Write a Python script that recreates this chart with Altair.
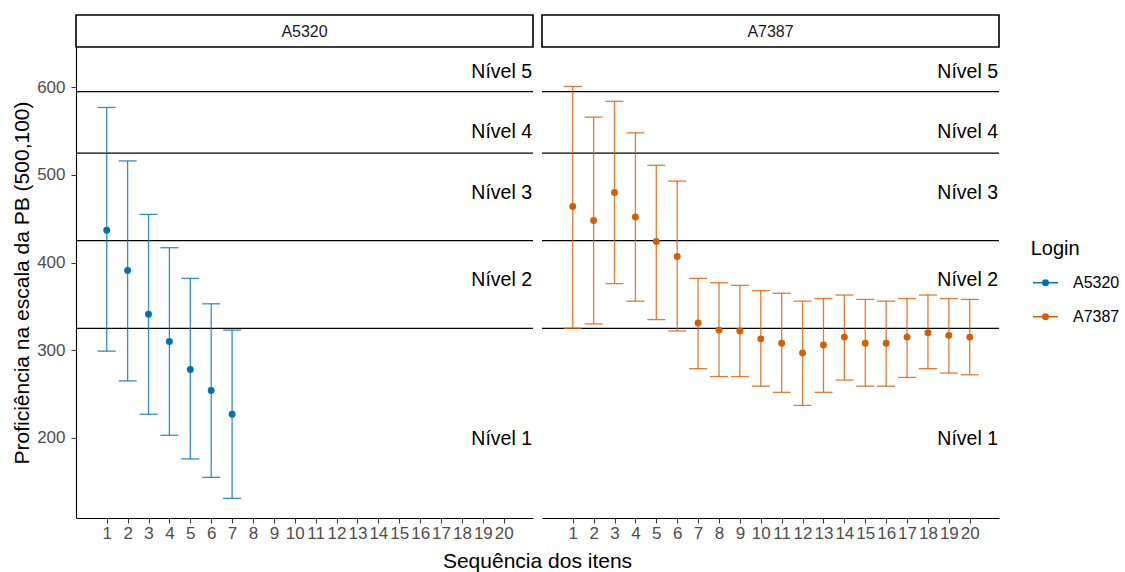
import altair as alt
import pandas as pd

# ---------------- data ----------------
items_a = [1, 2, 3, 4, 5, 6, 7]
mean_a = [437, 391, 341, 310, 278, 254, 227]
upper_a = [577, 516, 455, 417, 382, 353, 323]
lower_a = [299, 265, 227, 203, 176, 155, 131]

items_b = list(range(1, 21))
mean_b = [464, 448, 480, 452, 424, 407, 331, 323, 322, 313, 308, 297, 306, 315, 308, 308, 315, 320, 317, 315]
upper_b = [601, 566, 584, 548, 511, 493, 382, 377, 374, 368, 365, 356, 359, 363, 358, 356, 359, 363, 359, 358]
lower_b = [325, 330, 376, 356, 335, 322, 279, 270, 270, 259, 252, 237, 252, 266, 259, 259, 269, 279, 274, 272]

logins = ["A5320", "A7387"]
colors = ["#0072B2", "#D55E00"]

level_cuts = [325, 425, 525, 595]
level_names = ["Nível 1", "Nível 2", "Nível 3", "Nível 4", "Nível 5"]
level_label_pos = [199, 380, 479, 549, 618]

x_ticks = list(range(1, 21))
y_ticks = [200, 300, 400, 500, 600]

# ---------------- tables ----------------
df_a = pd.DataFrame({"item": items_a, "mean": mean_a, "lo": lower_a, "hi": upper_a, "Login": logins[0]})
df_b = pd.DataFrame({"item": items_b, "mean": mean_b, "lo": lower_b, "hi": upper_b, "Login": logins[1]})
df_cuts = pd.DataFrame({"y": level_cuts})
df_lab = pd.DataFrame({"y": level_label_pos, "label": level_names})
df_leg = pd.DataFrame({"Login": logins})

W = 457
H = 471
YDOM = [108.6, 646]
XDOM = [-0.47, 21.4]
FONT = "Liberation Sans"

color_scale = alt.Scale(domain=logins, range=colors)
yscale = alt.Scale(domain=YDOM, nice=False, zero=False)
xscale = alt.Scale(domain=XDOM, nice=False, zero=False)
xaxis = alt.Axis(values=x_ticks, title=None, labelOverlap=False, labelFlush=False, labelBound=False)
col = alt.Color("Login:N", scale=color_scale, legend=None)


def panel(df, name, left):
    if left:
        yaxis = alt.Axis(values=y_ticks, title="Proficiência na escala da PB (500,100)")
    else:
        yaxis = None

    def Y(f):
        return alt.Y(f, scale=yscale, axis=yaxis)

    def X(f):
        return alt.X(f, scale=xscale, axis=xaxis)

    base = alt.Chart(df)

    cuts = alt.Chart(df_cuts).mark_rule(color="#000000", strokeWidth=1.2).encode(y=Y("y:Q"))

    labs = alt.Chart(df_lab).mark_text(align="right", baseline="middle", fontSize=19.5,
                                       font=FONT, color="#000000").encode(
        x=alt.value(W - 1), y=Y("y:Q"), text="label:N")

    bars = base.mark_rule(strokeWidth=1.3, opacity=0.8).encode(
        x=X("item:Q"), y=Y("lo:Q"), y2="hi:Q", color=col)
    cap_lo = base.mark_tick(size=18, thickness=1.3, orient="horizontal", opacity=0.8).encode(
        x=X("item:Q"), y=Y("lo:Q"), color=col)
    cap_hi = base.mark_tick(size=18, thickness=1.3, orient="horizontal", opacity=0.8).encode(
        x=X("item:Q"), y=Y("hi:Q"), color=col)
    pts = base.mark_point(filled=True, size=48, opacity=1).encode(
        x=X("item:Q"), y=Y("mean:Q"), color=col)

    strip_df = pd.DataFrame({"Login": [name]})
    strip = alt.Chart(strip_df).mark_rect(fill="#ffffff", stroke="#000000", strokeWidth=1.6).encode(
        x=alt.value(0), x2=alt.value(W), y=alt.value(-32), y2=alt.value(0))
    strip_txt = alt.Chart(strip_df).mark_text(fontSize=16, font=FONT, color="#1a1a1a",
                                              baseline="middle").encode(
        x=alt.value(W / 2), y=alt.value(-15.5), text="Login:N")

    layers = [cuts, labs, bars, cap_lo, cap_hi, pts, strip, strip_txt]
    if left:
        xt = alt.Chart(strip_df).mark_text(fontSize=21, font=FONT, color="#000000",
                                           baseline="alphabetic").encode(
            x=alt.value(W + 4.5), y=alt.value(H + 50), text=alt.value("Sequência dos itens"))
        layers.append(xt)
    return alt.layer(*layers).properties(width=W, height=H)


left = panel(df_a, "A5320", True)
right = panel(df_b, "A7387", False)

# manual legend (ggplot style: line through dot)
leg_y = alt.Y("Login:N", scale=alt.Scale(domain=logins, range=[235.7, 269.7], type="point", padding=0),
              axis=None)
leg_title = alt.Chart(pd.DataFrame({"t": ["Login"]})).mark_text(
    fontSize=20, font=FONT, color="#000000", align="left", baseline="alphabetic").encode(
    x=alt.value(22.7), y=alt.value(208), text="t:N")
leg_line = alt.Chart(df_leg).mark_rule(strokeWidth=1.5).encode(
    x=alt.value(25), x2=alt.value(50), y=leg_y, color=col)
leg_pt = alt.Chart(df_leg).mark_point(filled=True, size=48, opacity=1).encode(
    x=alt.value(37.5), y=leg_y, color=col)
leg_txt = alt.Chart(df_leg).mark_text(fontSize=16, font=FONT, color="#000000", align="left",
                                      baseline="middle").encode(
    x=alt.value(65), y=leg_y, text="Login:N")
legend = alt.layer(leg_title, leg_line, leg_pt, leg_txt).properties(width=110, height=H)

chart = alt.hconcat(left, right, legend, spacing=9, bounds="flush").resolve_scale(
    color="shared").properties(
    background="#ffffff", padding={"left": 11, "top": 14, "right": 0, "bottom": 0}
).configure_view(stroke=None).configure_axis(
    grid=False, labelFontSize=17, labelColor="#4d4d4d", labelFont=FONT, tickColor="#333333",
    tickSize=5, domainColor="#000000", domainWidth=1.1, titleFontSize=21, titleFontWeight="normal",
    titleColor="#000000", titleFont=FONT).configure_axisY(labelPadding=6, titlePadding=4).configure_axisX(
    labelPadding=2)

chart.save("out.html", embed_options={"renderer": "svg", "actions": False})
